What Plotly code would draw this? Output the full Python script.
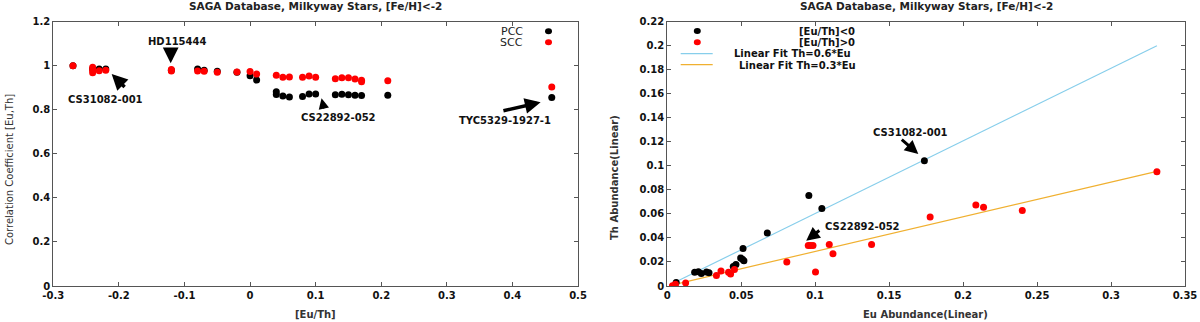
import plotly.graph_objects as go
from plotly.subplots import make_subplots

# ---- left panel: correlation coefficient vs [Eu/Th]
pcc_x = [-0.27, -0.24, -0.23, -0.22, -0.12, -0.08, -0.07, -0.05, -0.02, 0.00, 0.01,
         0.04, 0.04, 0.05, 0.06, 0.08, 0.09, 0.10, 0.13, 0.14, 0.15, 0.16, 0.17, 0.21, 0.46]
pcc_y = [1.0, 0.985, 0.985, 0.985, 0.98, 0.985, 0.98, 0.975, 0.97, 0.955, 0.935,
         0.882, 0.87, 0.863, 0.858, 0.86, 0.872, 0.872, 0.868, 0.871, 0.868, 0.866, 0.865, 0.866, 0.856]
scc_x = [-0.27, -0.24, -0.24, -0.24, -0.23, -0.22, -0.12, -0.12, -0.08, -0.07, -0.05, -0.02,
         0.00, 0.01, 0.04, 0.05, 0.06, 0.08, 0.09, 0.10, 0.13, 0.14, 0.15, 0.16, 0.17, 0.17, 0.21, 0.46]
scc_y = [1.0, 0.993, 0.98, 0.968, 0.977, 0.98, 0.983, 0.976, 0.976, 0.975, 0.97, 0.972,
         0.974, 0.962, 0.957, 0.948, 0.949, 0.948, 0.953, 0.948, 0.941, 0.946, 0.945, 0.94, 0.934, 0.927, 0.932, 0.904]

# ---- right panel: Th vs Eu abundance
neg_eu = [0.006, 0.0185, 0.021, 0.023, 0.0265, 0.0282, 0.0446, 0.0464, 0.0496, 0.0508,
          0.0518, 0.0512, 0.0676, 0.0957, 0.1045, 0.1738]
neg_th = [0.003, 0.0114, 0.0118, 0.0105, 0.0116, 0.0111, 0.0162, 0.0179, 0.0233, 0.0222,
          0.0211, 0.0313, 0.0442, 0.0754, 0.0645, 0.1043]
pos_eu = [0.0035, 0.0055, 0.0124, 0.0332, 0.0363, 0.0414, 0.0428, 0.0454, 0.0808, 0.0953,
          0.0968, 0.0985, 0.1002, 0.1095, 0.112, 0.1381, 0.1777, 0.2086, 0.2138, 0.240, 0.331]
pos_th = [0.0002, 0.0014, 0.0025, 0.0088, 0.0124, 0.0115, 0.0099, 0.0138, 0.0199, 0.0337,
          0.0337, 0.0337, 0.0117, 0.0345, 0.0269, 0.0345, 0.0575, 0.0674, 0.0656, 0.0628, 0.0952]
fit_eu = [0.0045, 0.331]
fit06_th = [0.0027, 0.200]
fit03_th = [0.0012, 0.0954]

# ticks
l_xticks = [-0.3, -0.2, -0.1, 0, 0.1, 0.2, 0.3, 0.4, 0.5]
l_xlabels = ["-0.3", "-0.2", "-0.1", "0", "0.1", "0.2", "0.3", "0.4", "0.5"]
l_yticks = [0, 0.2, 0.4, 0.6, 0.8, 1.0, 1.2]
l_ylabels = ["0", "0.2", "0.4", "0.6", "0.8", "1", "1.2"]
r_xticks = [0, 0.05, 0.1, 0.15, 0.2, 0.25, 0.3, 0.35]
r_xlabels = ["0", "0.05", "0.1", "0.15", "0.2", "0.25", "0.3", "0.35"]
r_yticks = [0, 0.02, 0.04, 0.06, 0.08, 0.1, 0.12, 0.14, 0.16, 0.18, 0.2, 0.22]
r_ylabels = ["0", "0.02", "0.04", "0.06", "0.08", "0.1", "0.12", "0.14", "0.16", "0.18", "0.2", "0.22"]

W, H = 1200, 322
FONT = "DejaVu Sans"
INK = "#111111"
FRAME = "#555555"


def px(x):
    return x / W


def py(y):
    return 1 - y / H


fig = make_subplots(rows=1, cols=2)

fig.add_trace(go.Scatter(x=pcc_x, y=pcc_y, mode="markers", name="PCC",
                         marker=dict(color="black", size=7)), row=1, col=1)
fig.add_trace(go.Scatter(x=scc_x, y=scc_y, mode="markers", name="SCC",
                         marker=dict(color="#ff0000", size=7)), row=1, col=1)

fig.add_trace(go.Scatter(x=fit_eu, y=fit06_th, mode="lines", name="Linear Fit Th=0.6*Eu",
                         line=dict(color="#87ceeb", width=1.2)), row=1, col=2)
fig.add_trace(go.Scatter(x=fit_eu, y=fit03_th, mode="lines", name="Linear Fit Th=0.3*Eu",
                         line=dict(color="#f0b030", width=1.2)), row=1, col=2)
fig.add_trace(go.Scatter(x=neg_eu, y=neg_th, mode="markers", name="[Eu/Th]<0",
                         marker=dict(color="black", size=7)), row=1, col=2)
fig.add_trace(go.Scatter(x=pos_eu, y=pos_th, mode="markers", name="[Eu/Th]>0",
                         marker=dict(color="#ff0000", size=7)), row=1, col=2)

axis_common = dict(showline=True, mirror="ticks", linecolor=FRAME, linewidth=1,
                   ticks="inside", ticklen=4, tickcolor=FRAME, showgrid=False, automargin=False,
                   zeroline=False, tickfont=dict(family=FONT, size=10, color=INK, weight="bold"))

fig.update_xaxes(axis_common)
fig.update_yaxes(axis_common)
fig.update_layout(
    xaxis=dict(domain=[px(53.3), px(578)], range=[-0.3, 0.5], tickvals=l_xticks, ticktext=l_xlabels),
    yaxis=dict(domain=[py(286), py(21.7)], range=[0, 1.2], tickvals=l_yticks, ticktext=l_ylabels),
    xaxis2=dict(domain=[px(667.3), px(1185)], range=[0, 0.35], tickvals=r_xticks, ticktext=r_xlabels),
    yaxis2=dict(domain=[py(286), py(21.7)], range=[0, 0.22], tickvals=r_yticks, ticktext=r_ylabels),
    width=W, height=H, margin=dict(l=0, r=0, t=0, b=0, autoexpand=False),
    plot_bgcolor="white", paper_bgcolor="white", showlegend=False,
    font=dict(family=FONT, size=10, color=INK),
)


def paper_text(text, x, y, size=10, color=INK, anchor="center", angle=0):
    return dict(text=text, x=px(x), y=py(y), xref="paper", yref="paper", xanchor=anchor,
                yanchor="middle", textangle=angle, showarrow=False,
                font=dict(size=size, color=color))


def arrow(x, y, ax, ay, xr, yr, width=3.5, size=0.9):
    return dict(text="", x=x, y=y, ax=ax, ay=ay, xref=xr, yref=yr, axref=xr, ayref=yr,
                showarrow=True, arrowhead=2, arrowsize=size, arrowwidth=width, arrowcolor="black")


def label(text, x, y, xr, yr):
    return dict(text="<b>" + text + "</b>", x=x, y=y, xref=xr, yref=yr, showarrow=False,
                xanchor="center", yanchor="middle")


title = "<b>SAGA Database, Milkyway Stars, [Fe/H]<-2</b>"
ann = [
    paper_text(title, (53.3 + 578) / 2, 6, size=10.5, color="#222"),
    paper_text(title, (667.3 + 1185) / 2, 6, size=10.5, color="#222"),
    paper_text("<b>[Eu/Th]</b>", 315.6, 314, color="#333"),
    paper_text("<b>Eu Abundance(Linear)</b>", 926, 314, color="#333"),
    paper_text("Correlation Coefficient [Eu,Th]", 9, 170, color="#333", angle=-90),
    paper_text("<b>Th Abundance(Linear)</b>", 614, 178, color="#333", angle=-90),
]

# star labels and arrows, left panel
ann += [
    label("CS31082-001", -0.221, 0.849, "x", "y"),
    label("HD115444", -0.111, 1.111, "x", "y"),
    label("CS22892-052", 0.135, 0.766, "x", "y"),
    label("TYC5329-1927-1", 0.389, 0.751, "x", "y"),
    arrow(-0.211, 0.962, -0.189, 0.897, "x", "y"),
    arrow(-0.121, 1.011, -0.121, 1.071, "x", "y"),
    arrow(0.109, 0.852, 0.113, 0.799, "x", "y", width=1.5, size=1.4),
    arrow(0.443, 0.834, 0.384, 0.794, "x", "y"),
]

# star labels and arrows, right panel
ann += [
    label("CS31082-001", 0.1645, 0.128, "x2", "y2"),
    label("CS22892-052", 0.132, 0.0494, "x2", "y2"),
    arrow(0.1697, 0.1099, 0.1575, 0.1229, "x2", "y2", width=3),
    arrow(0.0939, 0.0377, 0.1038, 0.0472, "x2", "y2", width=3),
]

# hand-placed legends (gnuplot style: text left, sample right)
ann += [
    paper_text("PCC", 525, 31.5, size=11, color="#222", anchor="right"),
    paper_text("SCC", 525, 42.5, size=11, color="#222", anchor="right"),
    paper_text("<b>[Eu/Th]<0</b>", 857, 31.5, anchor="right"),
    paper_text("<b>[Eu/Th]>0</b>", 857, 42.5, anchor="right"),
    paper_text("<b>Linear Fit Th=0.6*Eu</b>", 853, 54, anchor="right"),
    paper_text("<b>Linear Fit Th=0.3*Eu</b>", 858, 65, anchor="right"),
]
fig.update_layout(annotations=ann)

shapes = []
for cx, cy, col in [(548.5, 31.3, "black"), (548.5, 42.3, "#ff0000"),
                    (697.3, 31, "black"), (697.3, 42.3, "#ff0000")]:
    shapes.append(dict(type="circle", xref="paper", yref="paper",
                       x0=px(cx - 3.5), x1=px(cx + 3.5), y0=py(cy + 3), y1=py(cy - 3),
                       fillcolor=col, line=dict(width=0)))
shapes.append(dict(type="line", xref="paper", yref="paper", x0=px(680.7), x1=px(712.7),
                   y0=py(53.7), y1=py(53.7), line=dict(color="#87ceeb", width=1.2)))
shapes.append(dict(type="line", xref="paper", yref="paper", x0=px(680.7), x1=px(712.7),
                   y0=py(64.7), y1=py(64.7), line=dict(color="#f0b030", width=1.2)))
fig.update_layout(shapes=shapes)

fig.write_html("out.html", config={"displayModeBar": False},
               post_script="document.body.style.margin='0';")
